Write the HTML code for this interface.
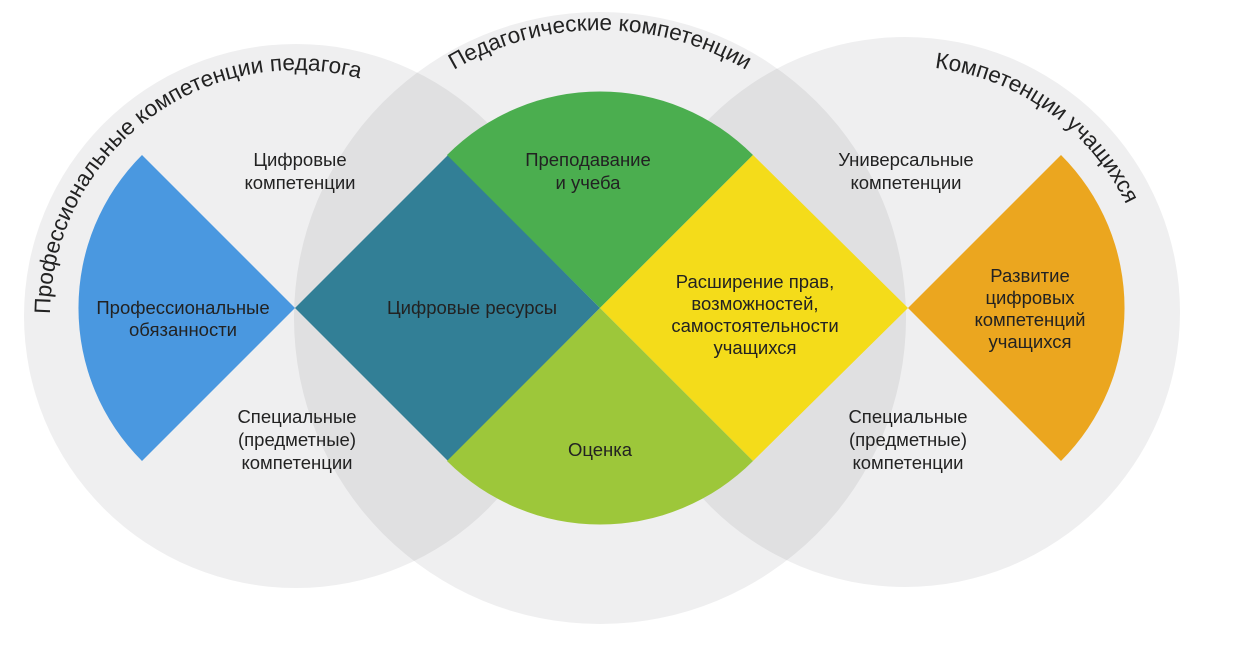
<!DOCTYPE html>
<html><head><meta charset="utf-8"><style>
html,body{margin:0;padding:0;background:#fff;}
svg{display:block;}
text{font-family:"Liberation Sans",sans-serif;fill:#222;}
</style></head><body>
<svg width="1256" height="648" viewBox="0 0 1256 648" xmlns="http://www.w3.org/2000/svg">
<defs>
<path id="pl" d="M50,316 A246,246 0 0 1 542,316"/>
<path id="pm" d="M312,318 A288,288 0 0 1 888,318"/>
<path id="pr" d="M659,312 A246,246 0 0 1 1151,312"/>
</defs>
<g style="isolation:isolate">
<circle cx="296" cy="316" r="272" fill="#efeff0" style="mix-blend-mode:multiply"/>
<circle cx="600" cy="318" r="306" fill="#efeff0" style="mix-blend-mode:multiply"/>
<circle cx="905" cy="312" r="275" fill="#efeff0" style="mix-blend-mode:multiply"/>
</g>
<path d="M295,308 L142,155 A216,216 0 0 0 142,461 Z" fill="#4a98e0"/>
<path d="M295,308 L448,155 L600,308 L448,461 Z" fill="#327f96"/>
<path d="M600,308 L447,155 A216,216 0 0 1 753,155 Z" fill="#4bae4f"/>
<path d="M600,308 L753,155 L908,308 L753,461 Z" fill="#f4dc1a"/>
<path d="M600,308 L753,461 A216,216 0 0 1 447,461 Z" fill="#9dc73a"/>
<path d="M908,308 L1061,155 A216,216 0 0 1 1061,461 Z" fill="#eba61f"/>

<text font-size="22.5"><textPath href="#pl" startOffset="2">Профессиональные компетенции педагога</textPath></text>
<text font-size="22.5" text-anchor="middle"><textPath href="#pm" startOffset="50%">Педагогические компетенции</textPath></text>
<text font-size="22.5"><textPath href="#pr" startOffset="416">Компетенции учащихся</textPath></text>

<g font-size="18.5" text-anchor="middle">
<text x="300" y="166">Цифровые</text><text x="300" y="189">компетенции</text>
<text x="183" y="314">Профессиональные</text><text x="183" y="336">обязанности</text>
<text x="297" y="423">Специальные</text><text x="297" y="446">(предметные)</text><text x="297" y="469">компетенции</text>
<text x="472" y="314">Цифровые ресурсы</text>
<text x="588" y="166">Преподавание</text><text x="588" y="189">и учеба</text>
<text x="600" y="456">Оценка</text>
<text x="755" y="288">Расширение прав,</text><text x="755" y="310">возможностей,</text><text x="755" y="332">самостоятельности</text><text x="755" y="354">учащихся</text>
<text x="906" y="166">Универсальные</text><text x="906" y="189">компетенции</text>
<text x="1030" y="282">Развитие</text><text x="1030" y="304">цифровых</text><text x="1030" y="326">компетенций</text><text x="1030" y="348">учащихся</text>
<text x="908" y="423">Специальные</text><text x="908" y="446">(предметные)</text><text x="908" y="469">компетенции</text>
</g>
</svg>
</body></html>
